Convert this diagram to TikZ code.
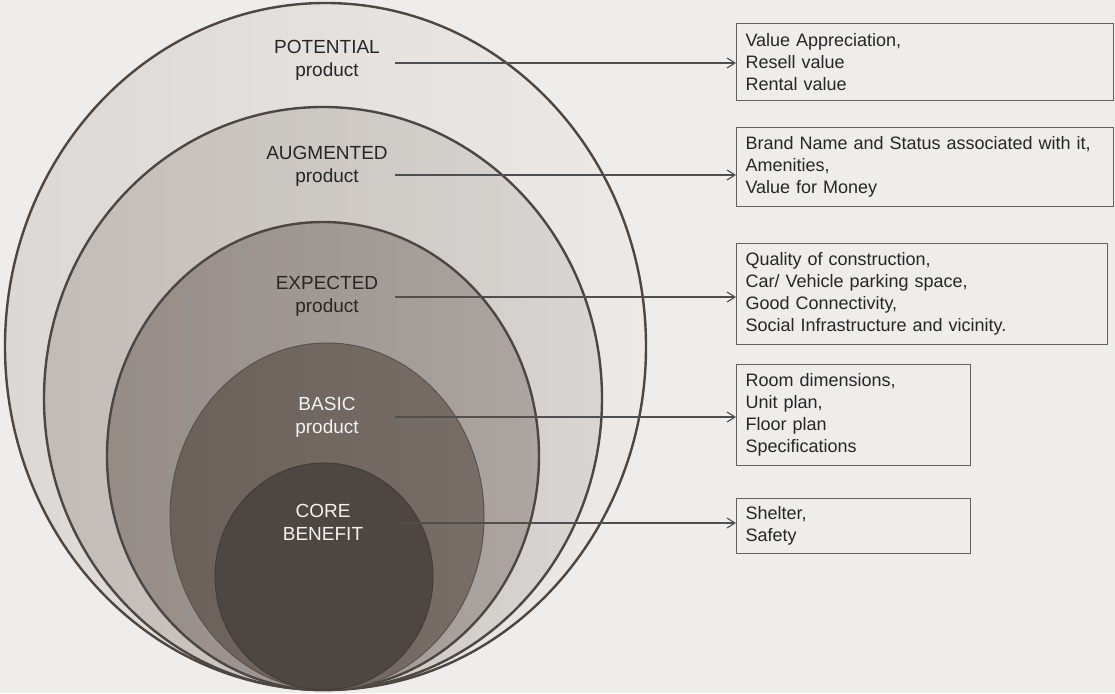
\documentclass[tikz,border=0pt]{standalone}
\usepackage{fontspec}
\setmainfont{Liberation Sans}
\newfontfamily\boxfont{Liberation Sans}[WordSpace=0.6]
\usetikzlibrary{arrows.meta}

\definecolor{bgcol}{HTML}{EEEDEB}
\definecolor{rimcol}{HTML}{4D4744}
\definecolor{potL}{HTML}{DCD8D5}
\definecolor{potR}{HTML}{ECE9E7}
\definecolor{augL}{HTML}{C1BCB7}
\definecolor{augR}{HTML}{D9D5D2}
\definecolor{expL}{HTML}{958C86}
\definecolor{expR}{HTML}{ACA5A0}
\definecolor{basL}{HTML}{6A615B}
\definecolor{basR}{HTML}{776E68}
\definecolor{corecol}{HTML}{4E4641}
\definecolor{darktxt}{HTML}{262626}
\definecolor{lighttxt}{HTML}{F4F2F0}
\definecolor{linecol}{HTML}{4F4F4F}

\begin{document}
\begin{tikzpicture}[x=1pt,y=-1pt,
  ring/.style={line width=2.4pt,draw=rimcol},
  lbl/.style={align=center,font=\fontsize{19}{23}\selectfont,text=darktxt},
  infobox/.style={draw=linecol!90,line width=1pt,anchor=north west,align=left,
    inner xsep=9pt,inner ysep=4pt,font=\boxfont\fontsize{18}{22}\selectfont,text=darktxt},
  arr/.style={linecol,line width=1.1pt,-{Straight Barb[length=8pt,width=10pt]}}]
\path[use as bounding box,fill=bgcol] (0,0) rectangle (1115,693);
% nested ellipses, all touching at the bottom
\shadedraw[ring,left color=potL,right color=potR] (325.5,346.5) ellipse [x radius=320.5pt,y radius=343.5pt];
\shadedraw[ring,left color=augL,right color=augR] (323,398.5) ellipse [x radius=279pt,y radius=291.5pt];
\shadedraw[ring,left color=expL,right color=expR] (323,456) ellipse [x radius=216pt,y radius=234pt];
\shadedraw[draw=basL!85!black,line width=1pt,left color=basL,right color=basR] (327,516.5) ellipse [x radius=157pt,y radius=173.5pt];
\filldraw[draw=corecol!85!black,line width=1pt,fill=corecol] (324,576.5) ellipse [x radius=109pt,y radius=113.5pt];
% labels
\node[lbl] (potential) at (327,60.7) {POTENTIAL\\product};
\node[lbl] (augmented) at (327,166.7) {AUGMENTED\\product};
\node[lbl] (expected) at (327,296) {EXPECTED\\product};
\node[lbl,text=lighttxt] (basic) at (327,417.7) {BASIC\\product};
\node[lbl,text=lighttxt] (core) at (323,522.7) {CORE\\BENEFIT};
% description boxes
\node[infobox,text width=359pt,minimum height=77pt] (b1) at (736,23) {Value Appreciation,\\Resell value\\Rental value};
\node[infobox,text width=359pt,minimum height=79pt] (b2) at (736,127) {Brand Name and Status associated with it,\\Amenities,\\Value for Money};
\node[infobox,text width=353pt,minimum height=101pt] (b3) at (736,243) {Quality of construction,\\Car/ Vehicle parking space,\\Good Connectivity,\\Social Infrastructure and vicinity.};
\node[infobox,text width=216pt,minimum height=101pt] (b4) at (736,364) {Room dimensions,\\Unit plan,\\Floor plan\\Specifications};
\node[infobox,text width=216pt,minimum height=55pt] (b5) at (736,498) {Shelter,\\Safety};
% connectors
\coordinate (s1) at (395,63);
\coordinate (s2) at (395,175);
\coordinate (s3) at (395,297);
\coordinate (s4) at (395,417);
\coordinate (s5) at (398,523);
\foreach \i in {1,...,5}
  \draw[arr] (s\i) -- (s\i -| b\i.west);
\end{tikzpicture}
\end{document}
